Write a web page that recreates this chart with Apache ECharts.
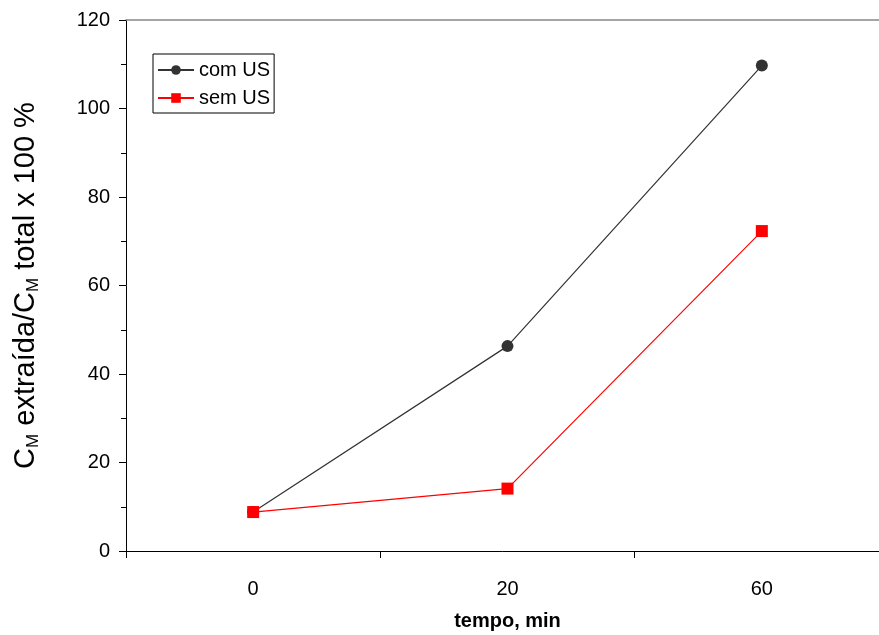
<!DOCTYPE html>
<html>
<head>
<meta charset="utf-8">
<script type="text/javascript" src="https://cdn.jsdelivr.net/npm/echarts@6/dist/echarts.min.js"></script>
<style>
    html, body { margin: 0; padding: 0; background: #fff; }
    #container { width: 879px; height: 635px; }
</style>
</head>
<body>
<div id="container"></div>
<script type="text/javascript">
    // dados
    var tempos = ['0', '20', '60'];
    var comUS = [8.8, 46.3, 109.7];
    var semUS = [8.8, 14.1, 72.3];
    var yMin = 0, yMax = 120, yStep = 20;

    window.onload = function () {
        var myChart = echarts.init(document.getElementById('container'));
        var fonte = 'Liberation Sans, Arial, sans-serif';

        var option = {
            animation: false,
            textStyle: { fontFamily: fonte },
            grid: { left: 126, top: 20, width: 763, bottom: 84, outerBoundsMode: 'none', containLabel: false },
            legend: {
                left: 153, top: 54,
                orient: 'vertical',
                itemWidth: 36, itemHeight: 12, itemGap: 8,
                padding: [6, 4, 5, 4],
                borderColor: '#000', borderWidth: 1,
                textStyle: { fontSize: 20, color: '#000', fontFamily: fonte },
                data: ['com US', 'sem US']
            },
            xAxis: [{
                type: 'category',
                data: tempos,
                boundaryGap: true,
                name: 'tempo, min',
                nameLocation: 'middle',
                nameGap: 60,
                nameTextStyle: { fontSize: 20, fontWeight: 'bold', color: '#000' },
                axisLine: { lineStyle: { color: '#000', width: 1 } },
                axisTick: { show: true, length: 7, lineStyle: { color: '#000' } },
                axisLabel: { fontSize: 20, color: '#000', margin: 28 },
                splitLine: { show: false }
            }, {
                type: 'category',
                data: tempos,
                position: 'top',
                axisLine: { show: true, lineStyle: { color: '#888', width: 1.5 } },
                axisTick: { show: false },
                axisLabel: { show: false },
                splitLine: { show: false }
            }],
            yAxis: {
                type: 'value',
                min: yMin, max: yMax, interval: yStep,
                name: '{a|C}{s|M}{a| extraída/C}{s|M}{a| total x 100 %}',
                nameLocation: 'middle',
                nameGap: 84,
                nameTextStyle: {
                    rich: {
                        a: { fontSize: 29, color: '#000', fontFamily: fonte },
                        s: { fontSize: 17, color: '#000', fontFamily: fonte, verticalAlign: 'bottom', padding: [15, 0, 0, 0] }
                    }
                },
                axisLine: { show: true, lineStyle: { color: '#000', width: 1 } },
                axisTick: { show: true, length: 7, lineStyle: { color: '#000' } },
                minorTick: { show: true, splitNumber: 2, length: 5, lineStyle: { color: '#000' } },
                axisLabel: { fontSize: 20, color: '#000', margin: 16 },
                splitLine: { show: false }
            },
            series: [{
                name: 'com US',
                type: 'line',
                data: comUS,
                symbol: 'circle',
                symbolSize: 12,
                itemStyle: { color: '#333' },
                lineStyle: { color: '#333', width: 1.2 }
            }, {
                name: 'sem US',
                type: 'line',
                data: semUS,
                symbol: 'rect',
                symbolSize: 12,
                itemStyle: { color: '#ff0000' },
                lineStyle: { color: '#ff0000', width: 1.2 }
            }]
        };

        myChart.setOption(option);
    };
</script>
</body>
</html>
